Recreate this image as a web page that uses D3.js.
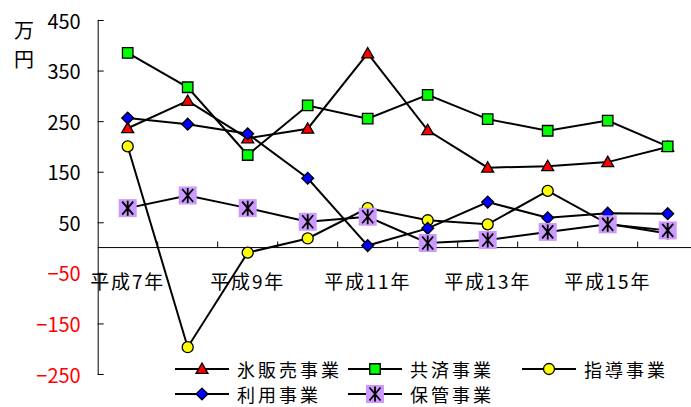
<!DOCTYPE html>
<html>
<head>
<meta charset="utf-8">
<script src="https://cdn.jsdelivr.net/npm/d3@7"></script>
<style>
  html, body { margin: 0; padding: 0; background: #fff; }
  svg { display: block; font-family: "Noto Sans CJK JP", "Noto Sans", sans-serif; }
</style>
</head>
<body>
<svg id="chart" width="691" height="407"></svg>
<script>
// 年度 (x categories)
const years = ["平成7年", "平成8年", "平成9年", "平成10年", "平成11年",
               "平成12年", "平成13年", "平成14年", "平成15年", "平成16年"];
// 事業別の値（万円）
const seriesNames = ["氷販売事業", "共済事業", "指導事業", "利用事業", "保管事業"];
const iceSales   = [236, 290, 216, 235, 384, 232, 158, 161, 169, 199];
const mutualAid  = [385, 317, 183, 281, 255, 302, 254, 231, 251, 200];
const guidance   = [200, -197, -10, 18, 78, 54, 46, 112, 47, 28];
const usage      = [256, 244, 225, 137, 4, 38, 90, 59, 68, 67];
const storage    = [78, 103, 78, 51, 61, 9, 15, 31, 46, 34];
const yTicks     = [-250, -150, -50, 50, 150, 250, 350, 450];
const unitLabel  = ["万", "円"];

const svg = d3.select("#chart");

const x = d3.scaleBand().domain(years).range([97.7, 697.7]);
const y = d3.scaleLinear().domain([-250, 450]).range([374, 20]);
const cx = d => x(d) + x.bandwidth() / 2;

// y axis: ticks point inward, negative labels in red
const yAxis = d3.axisLeft(y)
  .tickValues(yTicks)
  .tickSizeInner(-6)
  .tickSizeOuter(0)
  .tickPadding(17)
  .tickFormat(d3.format("d"));
const yg = svg.append("g").attr("transform", "translate(97.7,0)").call(yAxis);
yg.select(".domain").attr("stroke", "#000").attr("stroke-width", 1);
yg.selectAll(".tick line").attr("stroke", "#000");
yg.selectAll(".tick text")
  .attr("font-size", 20)
  .attr("font-family", "Noto Sans CJK JP")
  .attr("dy", "0.4em")
  .attr("fill", d => d < 0 ? "#ff0000" : "#000");

// unit label, written vertically
svg.append("g").selectAll("text").data(unitLabel).join("text")
  .attr("x", 24).attr("y", (d, i) => 29 + i * 29)
  .attr("text-anchor", "middle").attr("dominant-baseline", "central")
  .attr("font-size", 20).attr("fill", "#000")
  .text(d => d);

// x axis along the zero line, ticks at band boundaries pointing up
const xAxisG = svg.append("g").attr("transform", `translate(0,${y(0)})`);
xAxisG.append("line").attr("x1", 97.7).attr("x2", 697.7)
  .attr("stroke", "#000").attr("stroke-width", 1);
xAxisG.selectAll("line.tk").data(years.slice(1)).join("line").attr("class", "tk")
  .attr("x1", d => x(d)).attr("x2", d => x(d))
  .attr("y1", 0).attr("y2", -6).attr("stroke", "#000");
svg.append("g").selectAll("text").data(years.filter((d, i) => i % 2 === 0)).join("text")
  .attr("x", d => cx(d)).attr("y", 280)
  .attr("text-anchor", "middle").attr("dominant-baseline", "central")
  .attr("font-size", 19).attr("letter-spacing", 1.8).attr("fill", "#000")
  .text(d => d);

// marker drawing helpers
const markers = {
  triangle: g => g.append("path")
      .attr("d", d3.symbol(d3.symbolTriangle, 62)())
      .attr("transform", "translate(0,1)")
      .attr("fill", "#ff0000").attr("stroke", "#000").attr("stroke-width", 1.3),
  square: g => g.append("path")
      .attr("d", d3.symbol(d3.symbolSquare, 110)())
      .attr("fill", "#00ff00").attr("stroke", "#000").attr("stroke-width", 1.3),
  circle: g => g.append("path")
      .attr("d", d3.symbol(d3.symbolCircle, 95)())
      .attr("fill", "#ffff00").attr("stroke", "#000").attr("stroke-width", 1.3),
  diamond: g => g.append("path")
      .attr("d", d3.symbol(d3.symbolSquare, 70)())
      .attr("transform", "rotate(45)")
      .attr("fill", "#0000ff").attr("stroke", "#000").attr("stroke-width", 1.3),
  star: g => {
    g.append("rect").attr("x", -9).attr("y", -9).attr("width", 18).attr("height", 18)
      .attr("fill", "#cc99ff");
    g.append("path")
      .attr("d", "M0,-7.5V7.5M-5.5,-6.5L5.5,6.5M5.5,-6.5L-5.5,6.5")
      .attr("stroke", "#000").attr("stroke-width", 1.8).attr("fill", "none");
  }
};

const series = [
  { name: seriesNames[0], values: iceSales,  marker: "triangle" },
  { name: seriesNames[1], values: mutualAid, marker: "square" },
  { name: seriesNames[2], values: guidance,  marker: "circle" },
  { name: seriesNames[3], values: usage,     marker: "diamond" },
  { name: seriesNames[4], values: storage,   marker: "star" }
];

const line = d3.line().x((d, i) => cx(years[i])).y(d => y(d));

series.forEach(s => {
  const g = svg.append("g");
  g.append("path").attr("d", line(s.values))
    .attr("fill", "none").attr("stroke", "#000").attr("stroke-width", 2);
  s.values.forEach((v, i) => {
    const mg = g.append("g").attr("transform", `translate(${cx(years[i])},${y(v)})`);
    markers[s.marker](mg);
  });
});

// legend
const legendPos = [
  { x: 175, y: 369 }, { x: 348, y: 369 }, { x: 522, y: 369 },
  { x: 175, y: 394 }, { x: 348, y: 394 }
];
series.forEach((s, i) => {
  const p = legendPos[i];
  const g = svg.append("g").attr("transform", `translate(${p.x},${p.y})`);
  g.append("line").attr("x1", 0).attr("x2", 54).attr("y1", 0).attr("y2", 0)
    .attr("stroke", "#000").attr("stroke-width", 2);
  markers[s.marker](g.append("g").attr("transform", "translate(27,0)"));
  g.append("text").attr("x", 62).attr("y", 0)
    .attr("dominant-baseline", "central")
    .attr("font-size", 18).attr("letter-spacing", 3).attr("fill", "#000")
    .text(s.name);
});
</script>
</body>
</html>
